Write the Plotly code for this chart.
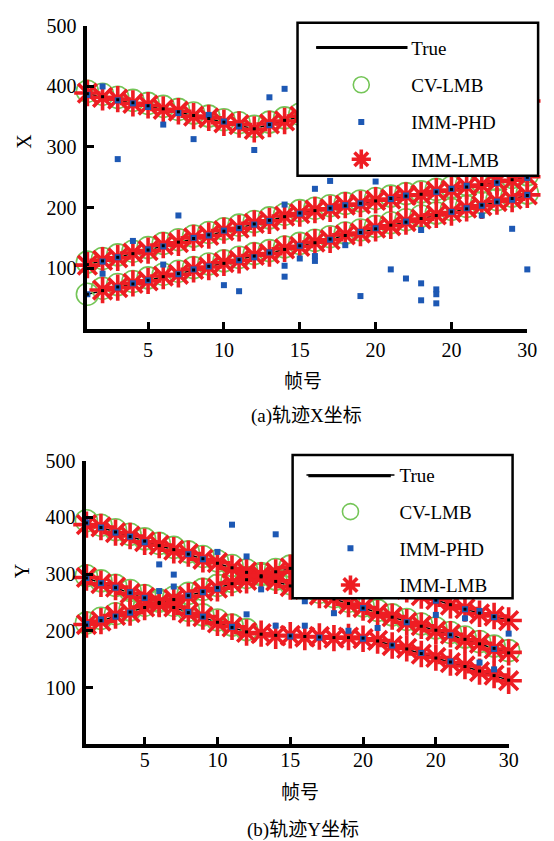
import plotly.graph_objects as go

W, H = 554, 841
frames = list(range(1, 31))

# ---------------- (a) X coordinate ----------------
x_true_a = [388,383,378,373,368,363,358,352,347,341,336,330,337,344,350,355,359,363,366,368,370,371,372,373,374,375,375,376,376,377]
x_true_b = [106,112,118,124,130,137,143,149,155,161,167,173,179,185,191,195,199,203,207,211,215,219,222,226,230,234,238,242,246,250]
x_true_c = [57,63,69,74,80,86,91,97,103,108,114,120,125,131,137,142,148,154,159,165,171,176,182,187,193,198,204,209,215,220]

x_cv_a = [392,387,382,377,372,367,362,356,351,345,340,334,341,348,354,359,363,367,370,372,374,375,376,377,378,379,379,380,380,381]
x_cv_b = [110,116,122,128,134,141,147,153,159,165,171,177,183,189,195,199,203,207,211,215,219,223,226,230,234,238,242,246,250,254]
x_cv_c = [57,67,73,78,84,90,95,101,107,112,118,124,129,135,141,146,152,158,163,169,175,180,186,191,197,202,208,213,219,224]

x_imm_a = [389,382,379,372,369,362,359,351,348,340,337,329,338,343,351,354,360,362,367,367,371,370,373,372,375,374,376,375,377,376]
x_imm_b = [105,113,117,125,129,138,142,150,154,162,166,174,178,186,190,196,198,204,206,212,214,220,221,227,229,235,237,243,245,251]
x_imm_c = [None,64,68,75,79,87,90,98,102,109,113,121,124,132,136,143,147,155,158,166,170,177,181,188,192,199,203,210,214,221]

x_phd_frame = [1,3,4,5,7,9,10,11,13, 2,3,6,8,12,13,14,
               2,3,5,6,8,9,10,11,12,13,15,17,18,19,21,22,24,25,26,28,30,
               1,3,4,5,7,8,9,11,12,13,15,17,19,20,22,25,26,27,28,29,30,
               2,4,6,7,10,11,14,14,14,15,16,16,16,17,18,19,20,21,22,23,23,23,24,24,24,27,29,30]
x_phd_value = [386,377,372,366,356,353,342,334,336, 400,280,337,313,295,382,396,
               111,118,131,136,150,154,162,166,172,178,190,199,204,207,214,220,226,231,236,241,249,
               57,68,75,80,90,98,103,113,118,126,137,147,160,166,177,193,199,203,210,213,221,
               91,145,106,187,72,62,205,104,86,116,120,112,231,244,138,54,243,98,83,75,47,163,65,57,42,187,165,98]

# ---------------- (b) Y coordinate ----------------
y_true_1 = [390,382,374,366,358,350,343,335,327,319,311,303,295,287,279,272,264,256,248,240,232,224,216,208,201,193,185,177,169,161]
y_true_2 = [293,284,276,267,258,250,241,232,224,215,206,198,194,192,191,190,189,188,188,187,182,175,168,160,152,145,137,129,121,113]
y_true_3 = [210,218,226,233,241,248,255,262,269,276,283,290,297,304,310,314,314,311,305,298,290,281,272,263,254,246,238,231,225,219]

y_cv_1 = [394,386,378,370,362,354,347,339,331,323,315,307,299,291,283,276,268,260,252,244,236,228,220,212,205,197,189,181,173,165]
y_cv_2 = [297,288,280,271,262,254,245,236,228,219,210,202] + [None] * 18
y_cv_3 = [214,222,230,237,245,252,259,266,273,280,287,294,301,308,314,318] + [None] * 14

y_imm_1 = [387,383,373,367,357,351,342,336,326,320,310,304,294,288,278,273,263,257,247,241,231,225,215,209,200,194,184,178,168,162]
y_imm_2 = [294,283,277,266,259,249,242,231,225,214,207,197,195,191,192,189,190,187,189,186,183,174,169,159,153,144,138,128,122,112]
y_imm_3 = [211,217,227,232,242,247,256,261,270,275,284,289,298,303,311,313,315,310,306,297,291,280,273,262,255,245,239,230,226,218]

y_phd_frame = [1,2,3,4,5,8,9,6,7,7,10,11,12,12,13,14,14,16,16,18,19,21,25,27,28,29,30,28,6,
               2,3,4,8,9,10,2,3,4,5,8,9,11,15,17,20,22,24,26,17,20,23,26,29,25,27,29,1,1]
y_phd_value = [391,382,373,366,356,335,326,317,299,278,339,387,331,229,273,370,209,252,209,231,200,205,228,222,144,132,195,235,270,
               220,225,232,262,268,274,284,276,268,258,233,225,207,190,188,186,174,161,146,262,240,215,192,168,253,238,224,293,212]

x_tick_vals = [5, 10, 15, 20, 25, 30]
x_tick_text = ["5", "10", "15", "20", "20", "30"]
y_tick_vals = [100, 200, 300, 400, 500]

RED = "#ee1d23"
GREEN = "#74c557"
BLUE = "#1d58b4"
SERIF = "'Liberation Serif', 'Noto Sans CJK SC', serif"


def join(*tracks):
    xs, ys = [], []
    for t in tracks:
        xs += frames + [None]
        ys += list(t) + [None]
    return xs, ys


fig = go.Figure()


def add_panel(xa, ya, leg, true_t, cv_t, imm_t, phd_f, phd_v):
    tx, ty = join(*true_t)
    fig.add_trace(go.Scatter(x=tx, y=ty, mode="lines", name="True",
                             line=dict(color="black", width=1.5), xaxis=xa, yaxis=ya,
                             legend=leg, legendgroup=leg + "t", legendrank=1, cliponaxis=False))
    cx, cy = join(*cv_t)
    fig.add_trace(go.Scatter(x=cx, y=cy, mode="markers", name="CV-LMB",
                             marker=dict(symbol="circle-open", size=22, color=GREEN,
                                         line=dict(width=1.6, color=GREEN)),
                             xaxis=xa, yaxis=ya, legend=leg, legendgroup=leg + "c",
                             legendrank=2, cliponaxis=False))
    ix, iy = join(*imm_t)
    fig.add_trace(go.Scatter(x=ix, y=iy, mode="markers", name="IMM-LMB",
                             marker=dict(symbol="asterisk-open", size=22, color=RED,
                                         line=dict(width=3.6, color=RED)),
                             xaxis=xa, yaxis=ya, legend=leg, legendgroup=leg + "i",
                             legendrank=4, cliponaxis=False))
    fig.add_trace(go.Scatter(x=phd_f, y=phd_v, mode="markers", name="IMM-PHD",
                             marker=dict(symbol="square", size=6, color=BLUE),
                             xaxis=xa, yaxis=ya, legend=leg, legendgroup=leg + "p",
                             legendrank=3, cliponaxis=False))
    fig.add_trace(go.Scatter(x=tx, y=ty, mode="markers", showlegend=False, hoverinfo="skip",
                             marker=dict(symbol="square", size=3, color="black"),
                             xaxis=xa, yaxis=ya, cliponaxis=False))


add_panel("x", "y", "legend", (x_true_a, x_true_b, x_true_c), (x_cv_a, x_cv_b, x_cv_c),
          (x_imm_a, x_imm_b, x_imm_c), x_phd_frame, x_phd_value)
add_panel("x2", "y2", "legend2", (y_true_1, y_true_2, y_true_3), (y_cv_1, y_cv_2, y_cv_3),
          (y_imm_1, y_imm_2, y_imm_3), y_phd_frame, y_phd_value)

axis_common = dict(showline=True, linewidth=4, linecolor="black", ticks="inside",
                   ticklen=7, tickwidth=3, tickcolor="black", showgrid=False, zeroline=False,
                   tickfont=dict(family=SERIF, size=20, color="black"))

fig.update_layout(
    width=W, height=H, margin=dict(l=0, r=0, t=0, b=0),
    paper_bgcolor="white", plot_bgcolor="white", showlegend=True,
    xaxis=dict(domain=[89 / W, 537 / W], range=[1, 30], tickvals=x_tick_vals,
               ticktext=x_tick_text, anchor="y", ticklabelstandoff=0, **axis_common),
    yaxis=dict(domain=[1 - 322 / H, 1 - 15 / H], range=[0, 500], tickvals=y_tick_vals,
               anchor="x", ticklabelstandoff=3, **axis_common),
    xaxis2=dict(domain=[88 / W, 518 / W], range=[1, 30], tickvals=x_tick_vals,
                ticktext=x_tick_text, anchor="y2", ticklabelstandoff=-5, **axis_common),
    yaxis2=dict(domain=[1 - 743 / H, 1 - 455.5 / H], range=[0, 500], tickvals=y_tick_vals,
                anchor="x2", ticklabelstandoff=3, **axis_common),
    legend=dict(x=317 / W, y=1 - 18 / H, xanchor="left", yanchor="top",
                bgcolor="rgba(0,0,0,0)", borderwidth=0, itemwidth=90,
                tracegroupgap=9.5, traceorder="grouped",
                font=dict(family=SERIF, size=19, color="black")),
    legend2=dict(x=307 / W, y=1 - 451 / H, xanchor="left", yanchor="top",
                 bgcolor="rgba(0,0,0,0)", borderwidth=0, itemwidth=88,
                 tracegroupgap=9, traceorder="grouped",
                 font=dict(family=SERIF, size=19, color="black")),
    shapes=[
        dict(type="rect", xref="paper", yref="paper", x0=303 / W, x1=548 / W,
             y0=1 - 167 / H, y1=1 - 12 / H, line=dict(color="black", width=2.5),
             fillcolor="white", layer="above"),
        dict(type="line", xref="paper", yref="paper", x0=322 / W, x1=415 / W,
             y0=1 - 37 / H, y1=1 - 37 / H, line=dict(color="black", width=3), layer="above"),
        dict(type="rect", xref="paper", yref="paper", x0=298 / W, x1=522 / W,
             y0=1 - 595 / H, y1=1 - 450 / H, line=dict(color="black", width=2.5),
             fillcolor="white", layer="above"),
        dict(type="line", xref="paper", yref="paper", x0=314 / W, x1=398 / W,
             y0=1 - 471 / H, y1=1 - 471 / H, line=dict(color="black", width=3), layer="above"),
    ],
)

ann_font = dict(family=SERIF, color="black")
for text, px, py, size, angle in [
    ("X", 25, 132, 20, -90),
    ("帧号", 309, 375, 19, 0),
    ("(a)轨迹X坐标", 312, 410, 19, 0),
    ("Y", 22, 568, 20, -90),
    ("帧号", 306, 792, 19, 0),
    ("(b)轨迹Y坐标", 309, 830, 19, 0),
]:
    fig.add_annotation(text=text, x=px / W, y=1 - py / H, xref="paper", yref="paper",
                       xanchor="center", yanchor="middle", showarrow=False,
                       textangle=angle, font=dict(size=size, **ann_font))

fig.write_html("out.html")
